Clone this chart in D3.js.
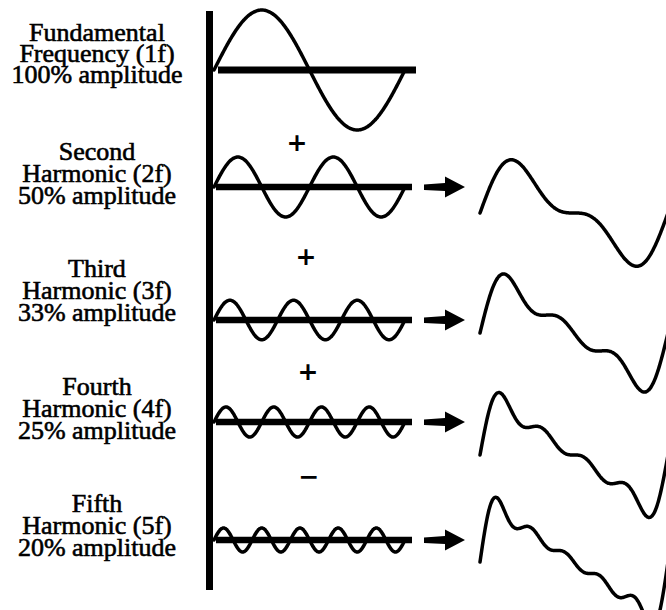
<!DOCTYPE html>
<html>

<script src="https://cdn.jsdelivr.net/npm/d3@7/dist/d3.min.js"></script>

<style>

  body, html {
    padding: 0;
    margin: 0;
    background: #fff;
  }

  svg {
    display: block;
  }

  .label {
    font-family: "Liberation Serif", "DejaVu Serif", "Times New Roman", serif;
    font-size: 26px;
    fill: #000;
    stroke: #000;
    stroke-width: 0.6px;
  }

</style>

<body>
  <svg width="666" height="610"></svg>

  <script>

    // the harmonics and their amplitudes (% of the fundamental)
    var harmonics = [1, 2, 3, 4, 5];
    var amplitudes = [100, 50, 33, 25, 20];

    var names = ['Fundamental', 'Second', 'Third', 'Fourth', 'Fifth'];
    var subtitles = ['Frequency (1f)', 'Harmonic (2f)', 'Harmonic (3f)', 'Harmonic (4f)', 'Harmonic (5f)'];
    var ampLabels = ['100% amplitude', '50% amplitude', '33% amplitude', '25% amplitude', '20% amplitude'];
    var signs = ['+', '+', '+', '\u2212'];

    // layout of the rows (hand drawn, so not evenly spaced)
    var axisY = [70, 187, 320, 422, 540],
        labelY = [41, 160, 277, 395, 512],
        sumY = [null, 213, 333, 455, 562],
        signX = [297, 306, 308, 309],
        signY = [142, 256, 371, 476];

    var svg = d3.select('svg');

    var t = d3.range(0, 1 + 1e-9, 1 / 300);

    var x = d3.scaleLinear().domain([0, 1]).range([214, 405]),
        amp = d3.scaleLinear().domain([0, 100]).range([0, 60]),
        xSum = d3.scaleLinear().domain([0, 1]).range([480, 668]),
        ampSum = d3.scaleLinear().domain([0, 100]).range([0, 41]);

    var line = d3.line().curve(d3.curveCatmullRom);

    // left edge bar
    svg.append('rect')
      .attr('x', 206).attr('y', 11)
      .attr('width', 7).attr('height', 579)
      .attr('fill', '#000');

    var rows = svg.selectAll('g.row')
      .data(harmonics)
      .enter().append('g')
        .attr('class', 'row');

    // labels
    rows.each(function (h, i) {
      var g = d3.select(this);
      [names[i], subtitles[i], ampLabels[i]].forEach(function (s, j) {
        g.append('text')
          .attr('class', 'label')
          .attr('x', 97)
          .attr('y', labelY[i] + j * (i === 0 ? 21 : 22))
          .attr('text-anchor', 'middle')
          .text(s);
      });
    });

    // zero lines
    rows.append('line')
      .attr('x1', function (h, i) { return i === 0 ? 218 : 216; })
      .attr('x2', function (h, i) { return i === 0 ? 416 : 412; })
      .attr('y1', function (h, i) { return axisY[i]; })
      .attr('y2', function (h, i) { return axisY[i]; })
      .attr('stroke', '#000')
      .attr('stroke-width', function (h, i) { return i === 0 ? 7 : 6.5; });

    // each harmonic
    rows.append('path')
      .attr('fill', 'none')
      .attr('stroke', '#000')
      .attr('stroke-width', 3.5)
      .attr('stroke-linecap', 'round')
      .attr('d', function (h, i) {
        return line(t.map(function (p) {
          return [x(p), axisY[i] - amp(amplitudes[i]) * Math.sin(2 * Math.PI * h * p)];
        }));
      });

    // running sum of harmonics, drawn for rows 2..5
    rows.filter(function (h, i) { return i > 0; })
      .append('path')
      .attr('fill', 'none')
      .attr('stroke', '#000')
      .attr('stroke-width', 3.5)
      .attr('stroke-linecap', 'round')
      .attr('d', function (h, i) {
        var n = i + 1;
        return line(t.map(function (p) {
          var s = d3.sum(harmonics.slice(0, n + 1), function (k, j) {
            return amplitudes[j] * Math.sin(2 * Math.PI * k * p);
          });
          return [xSum(p), sumY[n] - ampSum(s)];
        }));
      });

    // arrows
    rows.filter(function (h, i) { return i > 0; })
      .append('path')
      .attr('fill', '#000')
      .attr('transform', function (h, i) { return 'translate(424,' + axisY[i + 1] + ')'; })
      .attr('d', 'M0,-2.5 L21,-4 L21,-10.5 L41,0 L21,10.5 L21,4 L0,3 Z');

    // operators between rows
    svg.selectAll('text.sign')
      .data(signs)
      .enter().append('text')
        .attr('class', 'sign')
        .attr('x', function (d, i) { return signX[i]; })
        .attr('y', function (d, i) { return signY[i]; })
        .attr('text-anchor', 'middle')
        .attr('dominant-baseline', 'central')
        .attr('font-family', 'DejaVu Sans')
        .attr('font-weight', 'bold')
        .attr('font-size', 25)
        .text(function (d) { return d; });

  </script>
</body>
</html>
